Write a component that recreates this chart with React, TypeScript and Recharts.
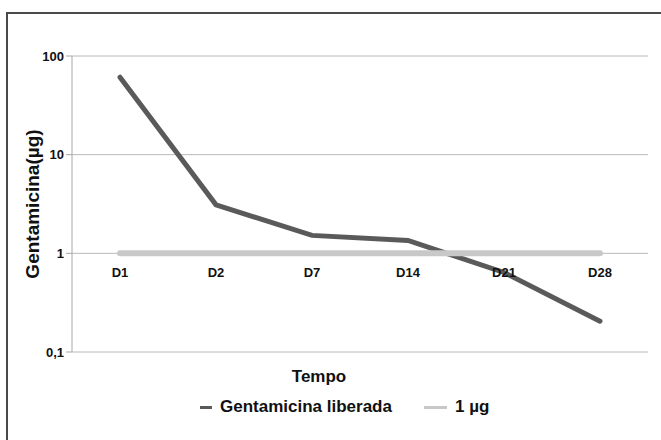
import React from "react"
import { CartesianGrid, LabelList, Legend, Line, LineChart, XAxis, YAxis } from "recharts"

const days = ["D1", "D2", "D7", "D14", "D21", "D28"]
const released = [61, 3.1, 1.52, 1.35, 0.64, 0.205]
const reference = [1, 1, 1, 1, 1, 1]
const yTicks = [0.1, 1, 10, 100]

const chartData = days.map((day, i) => ({
  day,
  released: released[i],
  reference: reference[i],
}))

const sans = "'Liberation Sans', Arial, sans-serif"

function LegendContent() {
  const items = [
    { label: "Gentamicina liberada", color: "#5a5a5a", dash: 12 },
    { label: "1 µg", color: "#c8c8c8", dash: 23 },
  ]
  return (
    <div style={{ display: "flex", alignItems: "center", fontFamily: sans, fontWeight: 700, fontSize: 17, color: "#111" }}>
      {items.map((it) => (
        <div key={it.label} style={{ display: "flex", alignItems: "center", marginRight: 32 }}>
          <span style={{ display: "inline-block", width: it.dash, height: 3, background: it.color, marginRight: 8 }} />
          <span>{it.label}</span>
        </div>
      ))}
    </div>
  )
}

export default function App() {
  return (
    <div style={{ position: "fixed", left: 0, top: 0, width: 661, height: 440, overflow: "hidden", background: "#fff" }}>
      <div style={{ position: "absolute", left: 0, top: 0 }}>
        <LineChart width={661} height={440} data={chartData} margin={{ top: 56, right: 13, left: 0, bottom: 0 }}>
          <CartesianGrid vertical={false} stroke="#b8b8b8" />
          <XAxis
            dataKey="day"
            tick={false}
            tickLine={false}
            axisLine={false}
            height={88}
            padding={{ left: 48, right: 48 }}
            label={{
              content: ({ viewBox }: any) => (
                <text
                  x={viewBox.x + viewBox.width / 2 - 41}
                  y={viewBox.y + 30}
                  textAnchor="middle"
                  fontFamily={sans}
                  fontWeight={700}
                  fontSize={17}
                  fill="#111"
                >
                  Tempo
                </text>
              ),
            }}
          />
          <YAxis
            scale="log"
            domain={[0.1, 100]}
            ticks={yTicks}
            allowDataOverflow
            width={72}
            stroke="#a8a8a8"
            tickSize={6}
            tick={{ fill: "#111", fontFamily: sans, fontWeight: 700, fontSize: 13 }}
            tickFormatter={(v: number) => String(v).replace(".", ",")}
            label={{
              content: ({ viewBox }: any) => (
                <text
                  x={32}
                  y={viewBox.y + viewBox.height / 2}
                  transform={`rotate(-90 32 ${viewBox.y + viewBox.height / 2})`}
                  textAnchor="middle"
                  dominantBaseline="central"
                  fontFamily={sans}
                  fontWeight={700}
                  fontSize={19}
                  fill="#111"
                >
                  Gentamicina(µg)
                </text>
              ),
            }}
          />
          <Line
            dataKey="released"
            name="Gentamicina liberada"
            stroke="#5a5a5a"
            strokeWidth={5}
            strokeLinecap="round"
            dot={false}
            activeDot={false}
            isAnimationActive={false}
          />
          <Line
            dataKey="reference"
            name="1 µg"
            stroke="#c8c8c8"
            strokeWidth={6}
            strokeLinecap="round"
            dot={false}
            activeDot={false}
            isAnimationActive={false}
          >
            <LabelList
              dataKey="day"
              position="bottom"
              offset={14}
              style={{ fill: "#111", fontFamily: sans, fontWeight: 700, fontSize: 13 }}
            />
          </Line>
          <Legend
            layout="vertical"
            align="center"
            verticalAlign="middle"
            content={<LegendContent />}
            wrapperStyle={{ top: 397, left: 200, width: 400 }}
          />
        </LineChart>
      </div>
      <div
        style={{
          position: "absolute",
          left: 6,
          top: 12,
          width: 700,
          height: 470,
          boxSizing: "border-box",
          border: "2px solid #4a4a4a",
          pointerEvents: "none",
        }}
      />
    </div>
  )
}
